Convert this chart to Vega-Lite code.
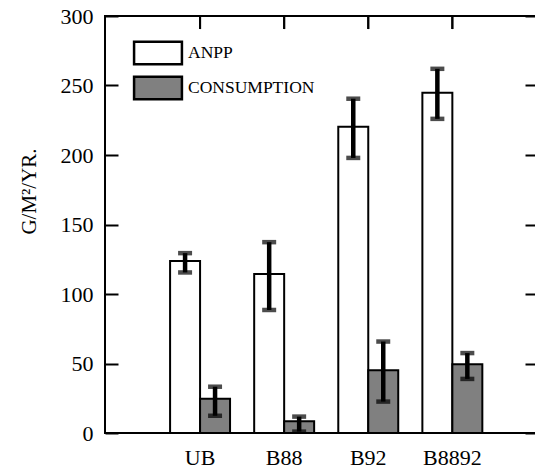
{
  "$schema": "https://vega.github.io/schema/vega-lite/v6.json",
  "width": 433,
  "height": 417,
  "autosize": {"type": "none"},
  "padding": {"left": 105, "top": 16, "right": 0, "bottom": 37},
  "background": "white",
  "config": {
    "view": {"stroke": "black", "strokeWidth": 2},
    "axis": {"grid": false, "labelColor": "black", "tickColor": "black", "labelFont": "Liberation Serif", "titleFont": "Liberation Serif", "titleColor": "black"}
  },
  "data": {
    "values": [
      {"site": "UB", "measure": "ANPP", "value": 123.8, "lo": 115.5, "hi": 129.4},
      {"site": "UB", "measure": "CONSUMPTION", "value": 24.7, "lo": 12.4, "hi": 33.3},
      {"site": "B88", "measure": "ANPP", "value": 114.3, "lo": 88.5, "hi": 137.3},
      {"site": "B88", "measure": "CONSUMPTION", "value": 8.4, "lo": 1, "hi": 11.8},
      {"site": "B92", "measure": "ANPP", "value": 220.3, "lo": 197.9, "hi": 240.5},
      {"site": "B92", "measure": "CONSUMPTION", "value": 45.1, "lo": 22.6, "hi": 65.8},
      {"site": "B8892", "measure": "ANPP", "value": 244.8, "lo": 226, "hi": 262},
      {"site": "B8892", "measure": "CONSUMPTION", "value": 49.5, "lo": 38.9, "hi": 57.5}
    ]
  },
  "layer": [
    {
      "mark": {"type": "bar", "stroke": "black", "strokeWidth": 2},
      "encoding": {
        "x": {"field": "site", "type": "nominal", "sort": ["UB", "B88", "B92", "B8892"],
              "scale": {"paddingInner": 0.287, "paddingOuter": 0.718, "align": 0.539},
              "axis": {"orient": "bottom", "title": null, "ticks": false, "domain": false, "labelAngle": 0, "labelFont": "Liberation Serif", "labelFontSize": 22, "labelPadding": 14}},
        "xOffset": {"field": "measure", "type": "nominal", "scale": {"paddingInner": 0, "paddingOuter": 0}},
        "y": {"field": "value", "type": "quantitative", "scale": {"domain": [0, 300], "nice": false},
              "axis": {"orient": "left", "values": [0, 50, 100, 150, 200, 250, 300], "domain": false, "tickSize": -13, "tickWidth": 2, "labelFont": "Liberation Serif", "labelFontSize": 22, "labelPadding": 25,
                       "title": "G/M²/YR.", "titleFont": "Liberation Serif", "titleFontSize": 21, "titleFontWeight": "normal", "titleX": -70, "titleY": 175, "titleBaseline": "alphabetic", "titleAngle": 270, "titleAlign": "center"}},
        "fill": {"field": "measure", "type": "nominal",
                 "scale": {"domain": ["ANPP", "CONSUMPTION"], "range": ["white", "#808080"]},
                 "legend": {"title": null, "orient": "none", "legendX": 35, "legendY": 19,
                            "symbolType": "M-1.45,-0.68H1.45V0.68H-1.45Z", "symbolSize": 1089,
                            "symbolStrokeColor": "black", "symbolStrokeWidth": 2.5,
                            "labelFont": "Liberation Serif", "labelFontSize": 17.5, "labelColor": "black",
                            "labelOffset": 12, "rowPadding": 0, "padding": 0}}
      }
    },
    {
      "mark": {"type": "tick", "color": "black", "orient": "vertical", "size": 13, "thickness": 2, "opacity": 1},
      "encoding": {
        "x": {"field": "site", "type": "nominal", "sort": ["UB", "B88", "B92", "B8892"], "axis": null},
        "y": {"datum": 295.3, "type": "quantitative"}
      }
    },
    {
      "mark": {"type": "rule", "color": "black", "strokeWidth": 4.5},
      "encoding": {
        "x": {"field": "site", "type": "nominal", "sort": ["UB", "B88", "B92", "B8892"], "axis": null},
        "xOffset": {"field": "measure", "type": "nominal"},
        "y": {"field": "lo", "type": "quantitative",
              "axis": {"orient": "right", "title": null, "labels": false, "domain": false, "values": [0, 50, 100, 150, 200, 250, 300], "tickSize": -13, "tickWidth": 2}},
        "y2": {"field": "hi"}
      }
    },
    {
      "mark": {"type": "tick", "color": "black", "size": 14, "thickness": 4.5, "orient": "horizontal"},
      "encoding": {
        "x": {"field": "site", "type": "nominal", "sort": ["UB", "B88", "B92", "B8892"], "axis": null},
        "xOffset": {"field": "measure", "type": "nominal"},
        "y": {"field": "lo", "type": "quantitative", "axis": null}
      }
    },
    {
      "mark": {"type": "tick", "color": "black", "size": 14, "thickness": 4.5, "orient": "horizontal"},
      "encoding": {
        "x": {"field": "site", "type": "nominal", "sort": ["UB", "B88", "B92", "B8892"], "axis": null},
        "xOffset": {"field": "measure", "type": "nominal"},
        "y": {"field": "hi", "type": "quantitative", "axis": null}
      }
    }
  ],
  "resolve": {"axis": {"x": "independent", "y": "independent"}}
}
